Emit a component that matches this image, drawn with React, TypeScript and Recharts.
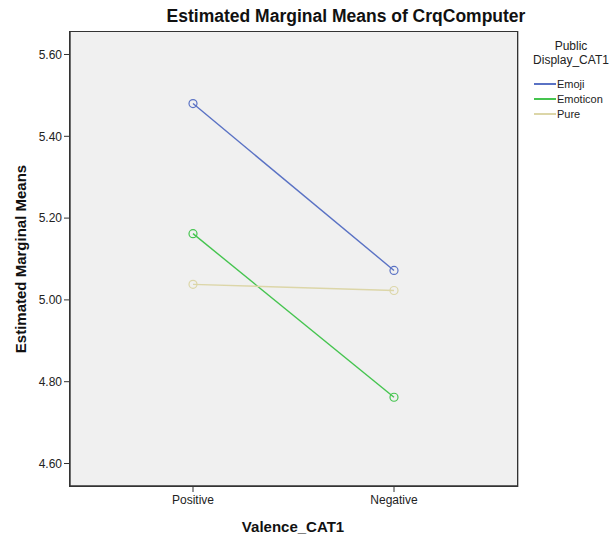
import { CartesianGrid, Line, LineChart, XAxis, YAxis } from "recharts";

const valence = ["Positive", "Negative"];
const emoji = [5.48, 5.072];
const emoticon = [5.162, 4.762];
const pure = [5.038, 5.023];
const yTicks = [4.6, 4.8, 5.0, 5.2, 5.4, 5.6];

const series = [
  { key: "Emoji", values: emoji, color: "#5a72c4" },
  { key: "Emoticon", values: emoticon, color: "#45c44f" },
  { key: "Pure", values: pure, color: "#dcd6a8" },
];

const data = valence.map((v, i) => {
  const row: Record<string, string | number> = { valence: v };
  series.forEach((s) => {
    row[s.key] = s.values[i];
  });
  return row;
});

const font = "Arial, 'Liberation Sans', sans-serif";
const frame = "#333";

export default function App() {
  return (
    <div
      style={{
        position: "absolute",
        left: 0,
        top: 0,
        width: 614,
        height: 539,
        background: "#fff",
        fontFamily: font,
      }}
    >
      <LineChart
        width={614}
        height={539}
        data={data}
        margin={{ top: 32, right: 97, bottom: 0, left: 0 }}
      >
        <CartesianGrid fill="#f0f0f0" horizontal={false} vertical={false} />
        <XAxis
          dataKey="valence"
          type="category"
          height={53}
          padding={{ left: 123, right: 123 }}
          tickSize={6}
          tickMargin={3}
          tick={{ fontSize: 12, fill: "#222", fontFamily: font }}
          axisLine={{ stroke: frame, strokeWidth: 1.4 }}
          tickLine={{ stroke: frame }}
        />
        <YAxis
          width={70}
          domain={[4.545, 5.655]}
          ticks={yTicks}
          allowDataOverflow
          tickFormatter={(v: number) => v.toFixed(2)}
          tickSize={6}
          tickMargin={2}
          tick={{ fontSize: 12, fill: "#222", fontFamily: font }}
          axisLine={{ stroke: frame, strokeWidth: 1.4 }}
          tickLine={{ stroke: frame }}
        />
        {series.map((s) => (
          <Line
            key={s.key}
            dataKey={s.key}
            type="linear"
            stroke={s.color}
            strokeWidth={1.4}
            dot={{ r: 4, fill: "none", stroke: s.color, strokeWidth: 1.2 }}
            activeDot={false}
            isAnimationActive={false}
          />
        ))}
      </LineChart>

      {/* plot frame */}
      <div
        style={{
          position: "absolute",
          left: 69,
          top: 31,
          width: 447,
          height: 454,
          border: `1.4px solid ${frame}`,
          boxShadow: "1px 0 0 #bbb",
          pointerEvents: "none",
        }}
      />

      <div
        style={{
          position: "absolute",
          top: 6,
          left: 346,
          transform: "translateX(-50%)",
          fontSize: 17.5,
          fontWeight: "bold",
          whiteSpace: "nowrap",
          color: "#111",
        }}
      >
        Estimated Marginal Means of CrqComputer
      </div>

      <div
        style={{
          position: "absolute",
          top: 518,
          left: 293,
          transform: "translateX(-50%)",
          fontSize: 15,
          fontWeight: "bold",
          whiteSpace: "nowrap",
          color: "#111",
        }}
      >
        Valence_CAT1
      </div>

      <div
        style={{
          position: "absolute",
          top: 259,
          left: 20,
          transform: "translate(-50%, -50%) rotate(-90deg)",
          fontSize: 15,
          fontWeight: "bold",
          whiteSpace: "nowrap",
          color: "#111",
        }}
      >
        Estimated Marginal Means
      </div>

      <div
        style={{
          position: "absolute",
          top: 39,
          left: 571,
          transform: "translateX(-50%)",
          fontSize: 12,
          lineHeight: "14px",
          textAlign: "center",
          whiteSpace: "nowrap",
          color: "#222",
        }}
      >
        Public
        <br />
        Display_CAT1
      </div>

      <div style={{ position: "absolute", top: 76, left: 534 }}>
        {series.map((s) => (
          <div
            key={s.key}
            style={{
              display: "flex",
              alignItems: "center",
              height: 15,
              fontSize: 11,
              color: "#222",
            }}
          >
            <span
              style={{
                display: "inline-block",
                width: 22,
                height: 2,
                background: s.color,
                marginRight: 1,
              }}
            />
            {s.key}
          </div>
        ))}
      </div>
    </div>
  );
}
